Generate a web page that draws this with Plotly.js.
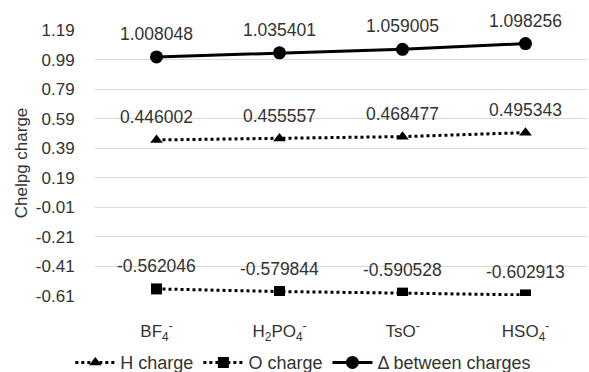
<!DOCTYPE html>
<html><head><meta charset="utf-8">
<script src="https://cdn.plot.ly/plotly-3.0.1.min.js"></script>
<style>body{margin:0;background:#fff}#c{width:589px;height:372px}</style>
</head><body><div id="c"></div>
<script>
const categories = ['BF<sub>4</sub><sup>-</sup>', 'H<sub>2</sub>PO<sub>4</sub><sup>-</sup>', 'TsO<sup>-</sup>', 'HSO<sub>4</sub><sup>-</sup>'];
const hCharge = [0.446002, 0.455557, 0.468477, 0.495343];
const oCharge = [-0.562046, -0.579844, -0.590528, -0.602913];
const delta = [1.008048, 1.035401, 1.059005, 1.098256];
const yTicks = [-0.61, -0.41, -0.21, -0.01, 0.19, 0.39, 0.59, 0.79, 0.99, 1.19];

const font = 'Liberation Sans, Arial, sans-serif';
const txt = '#333333';
const traces = [
  {x: categories, y: hCharge, name: 'H charge', mode: 'lines+markers',
   line: {color: '#000', width: 3, dash: 'dot'}, marker: {symbol: 'triangle-up', size: 11, color: '#000'}},
  {x: categories, y: oCharge, name: 'O charge', mode: 'lines+markers',
   line: {color: '#000', width: 3, dash: 'dot'}, marker: {symbol: 'square', size: 11, color: '#000'}},
  {x: categories, y: delta, name: 'Δ between charges', mode: 'lines+markers',
   line: {color: '#000', width: 3}, marker: {symbol: 'circle', size: 13, color: '#000'}}
];
const annotations = [];
[hCharge, oCharge, delta].forEach(arr => arr.forEach((v, i) => {
  annotations.push({x: categories[i], y: v, text: v.toFixed(6), showarrow: false,
    yshift: 23, font: {family: font, size: 17.5, color: txt}});
}));
const layout = {
  width: 589, height: 372,
  margin: {l: 95, r: 2, t: 30, b: 76},
  paper_bgcolor: '#fff', plot_bgcolor: '#fff',
  font: {family: font, color: txt},
  showlegend: true,
  legend: {orientation: 'h', x: 0.515, xref: 'container', xanchor: 'center',
    y: 0.025, yref: 'container', yanchor: 'middle', itemwidth: 40,
    font: {family: font, size: 18, color: txt}},
  xaxis: {type: 'category', range: [-0.5, 3.5], showgrid: false, zeroline: false, showline: false,
    ticks: 'outside', ticklen: 20, tickcolor: 'rgba(0,0,0,0)',
    tickfont: {family: font, size: 17, color: txt}},
  yaxis: {range: [-0.61, 1.19], tickvals: yTicks, ticktext: yTicks.map(v => v.toFixed(2)),
    showgrid: true, gridcolor: '#d9d9d9', gridwidth: 1, zeroline: false, showline: false,
    ticks: 'outside', ticklen: 16, tickcolor: 'rgba(0,0,0,0)',
    tickfont: {family: font, size: 17, color: txt},
    title: {text: 'Chelpg charge', font: {family: font, size: 17, color: txt}, standoff: 3}},
  annotations: annotations
};
Plotly.newPlot('c', traces, layout, {displayModeBar: false});
</script></body></html>
